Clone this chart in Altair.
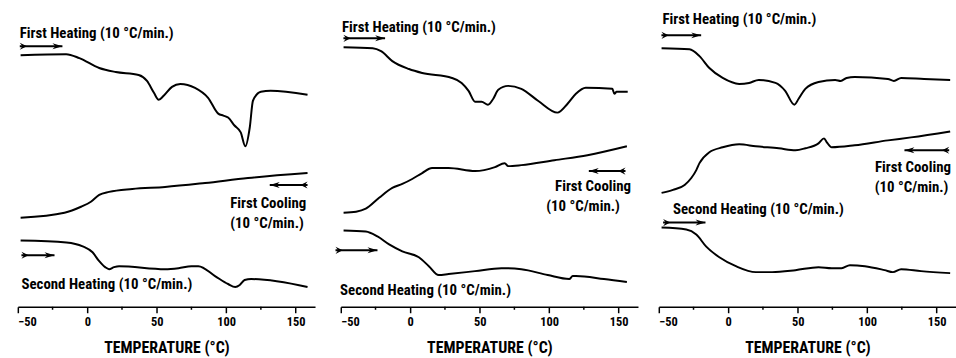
import altair as alt
import pandas as pd

FONT = "Roboto Condensed, DejaVu Sans Condensed, sans-serif"

# ---------------- data (temperature in °C, heat flow in arbitrary units) ----------------
# Panel 1
p1_h1_T = [-48, -15.2, -5.7, 8.6, 20.5, 37, 43, 48, 51.4, 55, 61, 67, 77.6, 87, 94.3, 98, 101.4, 106, 110.5, 113.8, 117, 119.3, 125, 132, 158.6]
p1_h1_Q = [25.4, 25.5, 25.1, 24.1, 23.7, 23.4, 22.8, 21.6, 20.9, 21.3, 22.2, 22.5, 22.1, 21.1, 19.5, 19.3, 19.1, 18.3, 17.6, 16.2, 18.1, 20.8, 21.7, 21.8, 21.4]
p1_c1_T = [-48, -16.4, -4.5, 2.6, 8.6, 15.7, 32.4, 56, 84.8, 115.7, 158.6]
p1_c1_Q = [9.0, 9.5, 10.1, 10.6, 11.3, 11.6, 11.9, 12.1, 12.5, 13.0, 13.5]
p1_h2_T = [-48, -15, -3.3, 3.8, 8.6, 12.9, 15.7, 19.3, 22.9, 56, 65.7, 75, 80, 92, 101.4, 106.6, 109.8, 113.3, 118, 158.6]
p1_h2_Q = [6.7, 6.5, 6.1, 5.5, 4.6, 4.0, 3.8, 4.0, 4.1, 3.8, 3.9, 4.1, 4.1, 3.1, 2.3, 2.0, 2.2, 2.7, 2.8, 2.0]

# Panel 2
p2_h1_T = [-48, -27, -21, -12.9, -0.9, 8.6, 30, 37, 42, 46.7, 51.4, 56, 59.8, 63.4, 70.5, 80, 92, 106, 113.3, 119.3, 126.4, 145.5, 147, 148.6, 156.6]
p2_h1_Q = [26.2, 26.1, 25.8, 24.8, 24.0, 23.6, 23.1, 22.6, 21.8, 20.7, 20.7, 20.4, 21.0, 21.9, 22.3, 22.0, 20.8, 19.6, 20.5, 21.5, 22.1, 22.0, 21.5, 21.7, 21.7]
p2_c1_T = [-48, -39, -32, -22.4, -12.9, -5.7, 1.4, 8.6, 15.7, 27.6, 46.7, 61, 68, 70.5, 80, 103.8, 127.6, 156]
p2_c1_Q = [9.5, 9.6, 9.9, 11.0, 12.0, 12.4, 12.9, 13.5, 14.0, 14.0, 13.7, 14.1, 14.5, 14.2, 14.3, 14.8, 15.3, 16.2]
p2_h2_T = [-48, -32, -23.6, -15.2, -5.7, 6.2, 13.4, 20.5, 27.6, 46.7, 65.7, 80, 99, 114.5, 117, 119.3, 139.5, 156]
p2_h2_Q = [7.7, 7.6, 7.1, 6.3, 5.6, 5.0, 4.1, 3.2, 3.3, 3.6, 3.9, 3.8, 3.2, 2.8, 3.1, 3.1, 2.8, 2.5]

# Panel 3
p3_h1_T = [-48, -27.9, -20.7, -13.6, -4, 7.9, 15, 22, 34, 41, 47.6, 50.7, 55.5, 65, 77, 81, 85.2, 91, 115, 119.3, 124.5, 141, 159.8]
p3_h1_Q = [26.1, 26.0, 25.3, 24.1, 23.1, 22.5, 22.6, 22.9, 22.6, 21.8, 20.4, 21.0, 22.0, 22.7, 22.9, 22.8, 23.1, 23.2, 23.0, 22.8, 23.1, 23.0, 22.9]
p3_c1_T = [-48, -39.8, -31.4, -26.6, -23, -20.7, -13.6, -4, 7.9, 19.8, 36.4, 48.4, 55.5, 65, 69, 71, 74.5, 91, 115, 131.6, 159.8]
p3_c1_Q = [11.5, 11.8, 12.3, 13.0, 13.8, 14.5, 15.6, 16.1, 16.4, 16.2, 16.0, 15.8, 16.0, 16.5, 17.0, 16.6, 16.1, 16.3, 16.8, 17.1, 17.7]
p3_h2_T = [-48, -30.2, -23, -16, -6.4, 5.5, 19.8, 31.6, 48.4, 65, 74.5, 81.6, 87.6, 98.4, 112.6, 118.6, 124.5, 138.8, 159.8]
p3_h2_Q = [8.0, 7.8, 7.3, 6.1, 5.0, 4.1, 3.5, 3.5, 3.7, 4.0, 3.9, 3.9, 4.2, 4.1, 3.7, 3.5, 3.8, 3.6, 3.4]

x_ticks = [-50, 0, 50, 100, 150]
x_minor = [-25, 25, 75, 125]

# Annotation texts: panel, T (left edge), Q, label
label_panel = [1, 1, 1, 1, 2, 2, 2, 2, 3, 3, 3, 3]
label_T = [-48.6, 102.9, 102.9, -47.4, -49.1, 104.3, 97.9, -50.5, -47.4, 105.7, 105.5, -39.8]
label_Q = [27.6, 10.5, 8.5, 2.3, 28.2, 12.2, 10.2, 1.7, 29.0, 14.1, 12.1, 9.9]
label_text = ["First Heating (10 °C/min.)", "First Cooling", "(10 °C/min.)", "Second Heating (10 °C/min.)",
              "First Heating (10 °C/min.)", "First Cooling", "(10 °C/min.)", "Second Heating (10 °C/min.)",
              "First Heating (10 °C/min.)", "First Cooling", "(10 °C/min.)", "Second Heating (10 °C/min.)"]

# Arrows: panel, tail T, head T, Q
arrow_panel = [1, 1, 1, 2, 2, 2, 3, 3, 3]
arrow_tail = [-48.6, 158.6, -47.4, -48.1, 155, -53.8, -48.1, 159.1, -46.9]
arrow_head = [-17.9, 131.4, -23.6, -18.1, 128.6, -23.6, -19.5, 126.9, -16.4]
arrow_Q = [26.3, 12.3, 5.2, 27.1, 13.7, 5.7, 27.4, 15.8, 8.5]

# ---------------- tables ----------------
series = {
    (1, "h1"): (p1_h1_T, p1_h1_Q), (1, "c1"): (p1_c1_T, p1_c1_Q), (1, "h2"): (p1_h2_T, p1_h2_Q),
    (2, "h1"): (p2_h1_T, p2_h1_Q), (2, "c1"): (p2_c1_T, p2_c1_Q), (2, "h2"): (p2_h2_T, p2_h2_Q),
    (3, "h1"): (p3_h1_T, p3_h1_Q), (3, "c1"): (p3_c1_T, p3_c1_Q), (3, "h2"): (p3_h2_T, p3_h2_Q),
}
rows = []
for (p, c), (ts, qs) in series.items():
    for k, (t, q) in enumerate(zip(ts, qs)):
        rows.append({"panel": p, "curve": c, "idx": k, "T": t, "Q": q})
curves = pd.DataFrame(rows)
labels = pd.DataFrame({"panel": label_panel, "T": label_T, "Q": label_Q, "text": label_text})
arrows = pd.DataFrame({"panel": arrow_panel, "tail": arrow_tail, "head": arrow_head, "Q": arrow_Q})
arrows["ang"] = [0 if h > t else 180 for t, h in zip(arrows["tail"], arrows["head"])]
minor = pd.DataFrame({"T": x_minor})

# arrowhead: tip at the anchor point; tail feather: rear at the anchor point
HEAD = "M-2,-0.6L0,0L-2,0.6L-1.4,0Z"
TAIL = "M0,-0.8L1.6,0L0,0.8L0.6,0Z"

xscale = alt.Scale(domain=[-50, 164], nice=False, zero=False)
yscale = alt.Scale(domain=[0, 30.8], nice=False, zero=False)


def panel(i):
    xenc = alt.X("T:Q", scale=xscale, axis=alt.Axis(
        values=x_ticks, title="TEMPERATURE (°C)", grid=False,
        domainColor="black", domainWidth=1.5, tickColor="black", tickWidth=1.5, tickSize=6,
        labelFont=FONT, labelFontSize=12.5, labelFontWeight="bold", labelColor="black", labelPadding=3,
        titleFont=FONT, titleFontSize=16, titleFontWeight="bold", titleColor="black", titlePadding=12))
    yenc = alt.Y("Q:Q", scale=yscale, axis=None)
    lines = alt.Chart(curves[curves.panel == i]).mark_line(
        color="black", strokeWidth=2, interpolate="monotone").encode(
        x=xenc, y=yenc, detail="curve:N", order="idx:Q")
    mt = alt.Chart(minor).mark_rule(color="black", strokeWidth=1.5).encode(
        x=alt.X("T:Q", scale=xscale), y=alt.value(308), y2=alt.value(311))
    a = arrows[arrows.panel == i]
    shaft = alt.Chart(a).mark_rule(color="black", strokeWidth=2).encode(
        x=alt.X("tail:Q", scale=xscale), x2="head:Q", y=alt.Y("Q:Q", scale=yscale))
    heads = alt.Chart(a).mark_point(shape=HEAD, filled=True, color="black", size=100, opacity=1).encode(
        x=alt.X("head:Q", scale=xscale), y=alt.Y("Q:Q", scale=yscale), angle=alt.Angle("ang:Q", scale=None))
    tails = alt.Chart(a).mark_point(shape=TAIL, filled=True, color="black", size=81, opacity=1).encode(
        x=alt.X("tail:Q", scale=xscale), y=alt.Y("Q:Q", scale=yscale), angle=alt.Angle("ang:Q", scale=None))
    txt = alt.Chart(labels[labels.panel == i]).mark_text(
        align="left", baseline="middle", font=FONT, fontSize=15, fontWeight="bold", color="black").encode(
        x=alt.X("T:Q", scale=xscale), y=alt.Y("Q:Q", scale=yscale), text="text:N")
    return alt.layer(lines, mt, shaft, heads, tails, txt).properties(width=300, height=308)


chart = alt.hconcat(panel(1), panel(2), panel(3), spacing=19).properties(
    padding={"left": 16, "top": 0, "right": 0, "bottom": 0},
    background="white",
).configure_view(stroke=None)

chart.save("out.html", embed_options={"renderer": "svg", "actions": False})
